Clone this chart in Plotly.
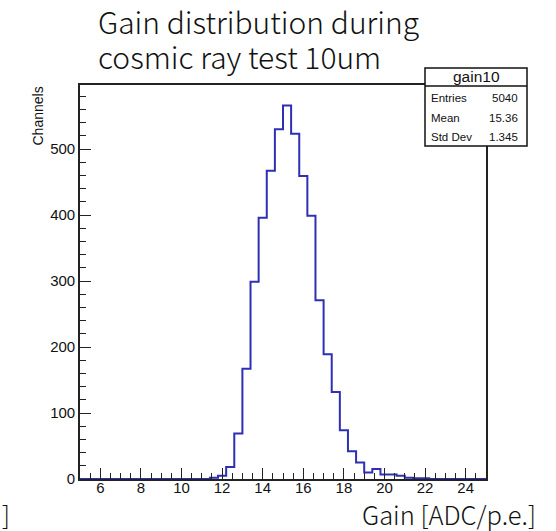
import plotly.graph_objects as go

# Histogram "gain10": 50 bins of 0.4 ADC/p.e. from 5 to 25
bin_low = 5.0
bin_width = 0.4
counts = [
    0, 0, 0, 0, 0, 0, 0, 0, 0, 0,
    0, 0, 0, 0, 0, 0, 2, 5, 18, 69,
    167, 299, 396, 467, 530, 566, 523, 459, 399, 271,
    189, 132, 74, 42, 25, 10, 15, 7, 7, 5,
    2, 1, 1, 0, 0, 0, 0, 0, 0, 0,
]
hist_name = "gain10"
stat_labels = ["Entries", "Mean", "Std Dev"]
stat_values = ["5040", "15.36", "1.345"]
title_lines = ["Gain distribution during", "cosmic ray test 10um"]
x_title = "Gain [ADC/p.e.]"
y_title = "Channels"

W, H = 556, 531
L, R, T, B = 80, 486, 85, 479  # plot frame in pixels


def px(x):
    return (x - L) / (R - L)


def py(y):
    return (B - y) / (B - T)


edges = [bin_low + bin_width * i for i in range(len(counts) + 1)]
step_y = counts + [counts[-1]]

fig = go.Figure()
fig.add_trace(go.Scatter(
    x=edges, y=step_y, mode="lines", line_shape="hv",
    line=dict(color="#2f2fb4", width=2), hoverinfo="skip", showlegend=False,
))

axis_common = dict(
    showline=True, linecolor="#222222", linewidth=1.6, mirror=True,
    ticks="inside", tickcolor="#222222", tickwidth=1.2, ticklen=11,
    showgrid=False, zeroline=False,
    tickfont=dict(family="Liberation Sans", size=15, color="#111111"),
)

fig.update_layout(
    width=W, height=H,
    margin=dict(l=L, r=W - R, t=T, b=H - B),
    paper_bgcolor="white", plot_bgcolor="white",
    xaxis=dict(
        range=[edges[0], edges[-1]], tick0=0, dtick=2, ticklabelstandoff=-6,
        minor=dict(dtick=0.5, ticks="inside", ticklen=6, tickcolor="#222222", tickwidth=1.2),
        **axis_common,
    ),
    yaxis=dict(
        range=[0, 597], tick0=0, dtick=100,
        minor=dict(dtick=20, ticks="inside", ticklen=6, tickcolor="#222222", tickwidth=1.2),
        **axis_common,
    ),
)

annotations = []
# two-line title, left aligned, one annotation per line
title_font = dict(family="Noto Sans CJK JP", size=30, weight=300, color="#111111")
for line, base in zip(title_lines, [37, 72]):
    annotations.append(dict(
        text=line, xref="paper", yref="paper", x=px(96), y=py(base + 8),
        xanchor="left", yanchor="bottom", showarrow=False, font=title_font,
    ))

# axis titles
axis_title_font = dict(family="Noto Sans CJK JP", size=25.5, weight=300, color="#111111")
annotations.append(dict(
    text=x_title, xref="paper", yref="paper", x=px(538), y=py(513.5),
    xanchor="right", yanchor="middle", showarrow=False, font=axis_title_font,
))
annotations.append(dict(
    text="]", xref="paper", yref="paper", x=px(0), y=py(513.5),
    xanchor="left", yanchor="middle", showarrow=False, font=axis_title_font,
))
annotations.append(dict(
    text=y_title, xref="paper", yref="paper", x=px(37), y=py(85),
    xanchor="center", yanchor="top", textangle=-90, showarrow=False,
    font=dict(family="Liberation Sans", size=14, color="#111111"),
))

# statistics box
box_l, box_r, box_t, box_b, box_sep = 425, 527, 68, 146, 86
shapes = [
    dict(type="rect", xref="paper", yref="paper",
         x0=px(box_l), x1=px(box_r), y0=py(box_b), y1=py(box_t),
         fillcolor="white", line=dict(color="#111111", width=1.5), layer="above"),
    dict(type="line", xref="paper", yref="paper",
         x0=px(box_l), x1=px(box_r), y0=py(box_sep), y1=py(box_sep),
         line=dict(color="#111111", width=1.5), layer="above"),
]
annotations.append(dict(
    text=hist_name, xref="paper", yref="paper", x=px((box_l + box_r) / 2), y=py(77),
    xanchor="center", yanchor="middle", showarrow=False,
    font=dict(family="Liberation Sans", size=15.5, color="#111111"),
))
stat_font = dict(family="Liberation Sans", size=11.5, color="#111111")
for lab, val, yy in zip(stat_labels, stat_values, [98, 118, 137]):
    annotations.append(dict(
        text=lab, xref="paper", yref="paper", x=px(429), y=py(yy),
        xanchor="left", yanchor="middle", showarrow=False, font=stat_font,
    ))
    annotations.append(dict(
        text=val, xref="paper", yref="paper", x=px(520), y=py(yy),
        xanchor="right", yanchor="middle", showarrow=False, font=stat_font,
    ))

fig.update_layout(annotations=annotations, shapes=shapes)
fig.write_html("out.html")
